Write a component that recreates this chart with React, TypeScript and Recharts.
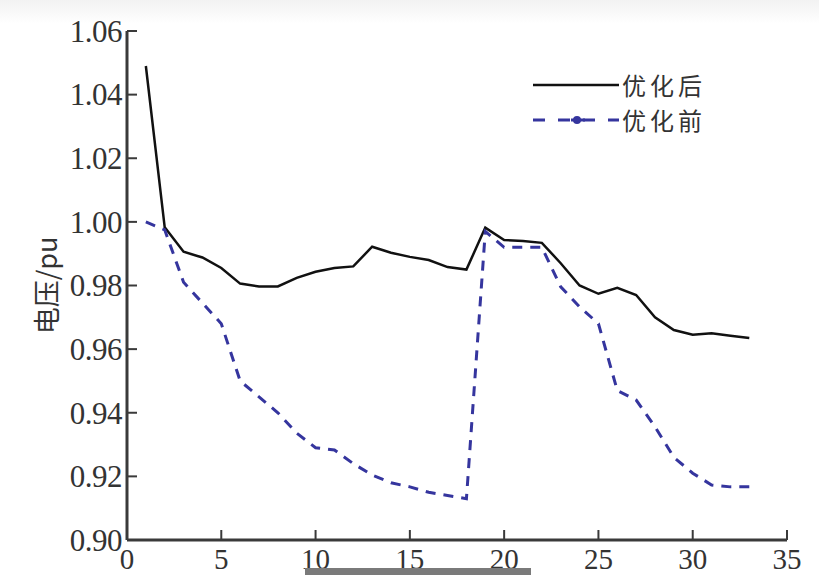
import React from "react"
import { LineChart, Line, XAxis, YAxis, Legend } from "recharts"

// node index 1..33
const nodes = [
  1, 2, 3, 4, 5, 6, 7, 8, 9, 10, 11, 12, 13, 14, 15, 16, 17, 18, 19, 20, 21,
  22, 23, 24, 25, 26, 27, 28, 29, 30, 31, 32, 33,
]

// 优化后 (after optimisation)
const after = [
  1.049, 0.9983, 0.9906, 0.9888, 0.9855, 0.9806, 0.9797, 0.9797, 0.9824,
  0.9843, 0.9855, 0.986, 0.9922, 0.9903, 0.989, 0.988, 0.9858, 0.985, 0.9982,
  0.9943, 0.994, 0.9934, 0.987, 0.98, 0.9774, 0.9793, 0.977, 0.97, 0.966,
  0.9645, 0.965, 0.9642, 0.9635,
]

// 优化前 (before optimisation)
const before = [
  1.0, 0.9975, 0.981, 0.9745, 0.968, 0.95, 0.945, 0.94, 0.9336, 0.929, 0.9283,
  0.924, 0.9204, 0.918, 0.9167, 0.915, 0.914, 0.913, 0.997, 0.992, 0.992,
  0.992, 0.9796, 0.9733, 0.968, 0.947, 0.944, 0.9356, 0.926, 0.921, 0.9173,
  0.9167, 0.9167,
]

const xTicks = [0, 5, 10, 15, 20, 25, 30, 35]
const yTicks = [0.9, 0.92, 0.94, 0.96, 0.98, 1.0, 1.02, 1.04, 1.06]

const seriesNames = { after: "优化后", before: "优化前" }

const data = nodes.map((n, i) => ({ node: n, after: after[i], before: before[i] }))

const axisColor = "#3a3a3a"
const textColor = "#333"
const blue = "#35359e"
const numFont = '"Liberation Serif", "DejaVu Serif", serif'
const cjkFont = '"Noto Sans CJK SC", sans-serif'

function YTick(props: any) {
  const { x, y, payload } = props
  return (
    <g>
      <line x1={x} x2={x + 10} y1={y} y2={y} stroke={axisColor} strokeWidth={2} />
      <text
        x={x - 5}
        y={y}
        dy="0.35em"
        textAnchor="end"
        fontFamily={numFont}
        fontSize={31}
        fill={textColor}
        letterSpacing={-0.5}
      >
        {payload.value.toFixed(2)}
      </text>
    </g>
  )
}

function XTick(props: any) {
  const { x, y, payload } = props
  return (
    <g>
      <line x1={x} x2={x} y1={y} y2={y - 10} stroke={axisColor} strokeWidth={2} />
      <text
        x={x}
        y={y + 6}
        dy="0.8em"
        textAnchor="middle"
        fontFamily={numFont}
        fontSize={29}
        fill={textColor}
      >
        {payload.value}
      </text>
    </g>
  )
}

function LegendBox() {
  const labelStyle = {
    fontFamily: cjkFont,
    fontSize: 24,
    color: textColor,
    lineHeight: "35px",
    letterSpacing: 4,
    marginLeft: 3,
  }
  return (
    <div>
      <div style={{ display: "flex", alignItems: "center", height: 35 }}>
        <svg width={86} height={10}>
          <line x1={0} x2={86} y1={5} y2={5} stroke="#111" strokeWidth={2.5} />
        </svg>
        <span style={labelStyle}>{seriesNames.after}</span>
      </div>
      <div style={{ display: "flex", alignItems: "center", height: 35 }}>
        <svg width={86} height={12}>
          <line
            x1={0}
            x2={86}
            y1={6}
            y2={6}
            stroke={blue}
            strokeWidth={3}
            strokeDasharray="12 13"
          />
          <circle cx={44} cy={6} r={4} fill={blue} />
          <line x1={38} x2={52} y1={6} y2={6} stroke={blue} strokeWidth={3} />
        </svg>
        <span style={labelStyle}>{seriesNames.before}</span>
      </div>
    </div>
  )
}

export default function App() {
  return (
    <div
      style={{
        position: "absolute",
        left: 0,
        top: 0,
        width: 819,
        height: 582,
        background: "linear-gradient(#f2f2f2 0px, #ffffff 24px)",
      }}
    >
      <LineChart
        width={819}
        height={582}
        data={data}
        margin={{ top: 31, right: 32, bottom: 0, left: 27 }}
      >
        <XAxis
          dataKey="node"
          type="number"
          domain={[0, 35]}
          ticks={xTicks}
          height={42}
          tickSize={0}
          tickMargin={0}
          tickLine={false}
          tick={<XTick />}
          axisLine={{ stroke: axisColor, strokeWidth: 3 }}
          allowDataOverflow
        />
        <YAxis
          type="number"
          domain={[0.9, 1.06]}
          ticks={yTicks}
          width={100}
          tickSize={0}
          tickMargin={0}
          tickLine={false}
          tick={<YTick />}
          axisLine={{ stroke: axisColor, strokeWidth: 3 }}
          interval={0}
          label={{
            value: "电压/pu",
            angle: -90,
            position: "insideLeft",
            offset: 20,
            style: {
              fontFamily: cjkFont,
              fontSize: 27,
              fill: textColor,
              textAnchor: "middle",
            },
          }}
        />
        <Legend
          layout="vertical"
          verticalAlign="middle"
          align="center"
          content={<LegendBox />}
          wrapperStyle={{ top: 67, left: 533, width: 220 }}
        />
        <Line
          type="linear"
          dataKey="after"
          name={seriesNames.after}
          stroke="#111"
          strokeWidth={2.5}
          dot={false}
          isAnimationActive={false}
        />
        <Line
          type="linear"
          dataKey="before"
          name={seriesNames.before}
          stroke={blue}
          strokeWidth={3}
          strokeDasharray="10 8"
          dot={false}
          isAnimationActive={false}
        />
      </LineChart>
      <div
        style={{
          position: "absolute",
          left: 305,
          top: 568,
          width: 226,
          height: 7,
          background: "#7a7a7a",
        }}
      />
    </div>
  )
}
